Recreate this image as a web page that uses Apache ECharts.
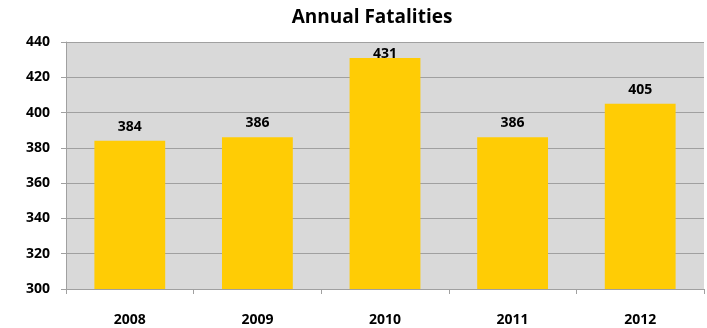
<!DOCTYPE html>
<html>
<head>
<meta charset="utf-8">
<script src="https://cdn.jsdelivr.net/npm/echarts@6/dist/echarts.min.js"></script>
<style>html,body{margin:0;padding:0;background:#fff;}#c{width:707px;height:328px;}</style>
</head>
<body>
<div id="c"></div>
<script>
var titleText = 'Annual Fatalities';
var categories = ['2008', '2009', '2010', '2011', '2012'];
var fatalities = [384, 386, 431, 386, 405];
var yTicks = [300, 320, 340, 360, 380, 400, 420, 440];

var FONT = '"Open Sans", "Liberation Sans", sans-serif';
var chart = echarts.init(document.getElementById('c'), null, {renderer: 'canvas'});
var data = fatalities.map(function (v) {
  var item = {value: v};
  if (v > 425) {
    item.label = {offset: [0, 10]};
  }
  return item;
});
chart.setOption({
  animation: false,
  title: {
    text: titleText,
    left: 367,
    top: 3,
    textAlign: 'center',
    textStyle: {fontFamily: FONT, fontWeight: 'bold', fontSize: 19, color: '#000'}
  },
  grid: {
    left: 66, right: 3, top: 42, bottom: 39,
    show: true, backgroundColor: '#D9D9D9', borderWidth: 0
  },
  xAxis: {
    type: 'category',
    data: categories,
    axisLine: {show: true, lineStyle: {color: '#A0A0A0', width: 1}},
    axisTick: {show: true, length: 5, alignWithLabel: false, lineStyle: {color: '#A0A0A0'}},
    axisLabel: {margin: 24, fontFamily: FONT, fontWeight: 'bold', fontSize: 14, color: '#000'}
  },
  yAxis: {
    type: 'value',
    min: yTicks[0],
    max: yTicks[yTicks.length - 1],
    interval: 20,
    axisLine: {show: true, lineStyle: {color: '#A0A0A0', width: 1}},
    axisTick: {show: true, length: 5, lineStyle: {color: '#A0A0A0'}},
    splitLine: {show: true, lineStyle: {color: '#A0A0A0', width: 1}},
    axisLabel: {margin: 16, fontFamily: FONT, fontWeight: 'bold', fontSize: 14, color: '#000'}
  },
  series: [{
    type: 'bar',
    data: data,
    barWidth: '55.5%',
    itemStyle: {color: '#FFCC05'},
    label: {
      show: true, position: 'top', distance: 7,
      fontFamily: FONT, fontWeight: 'bold', fontSize: 14, color: '#000'
    }
  }]
});
</script>
</body>
</html>
